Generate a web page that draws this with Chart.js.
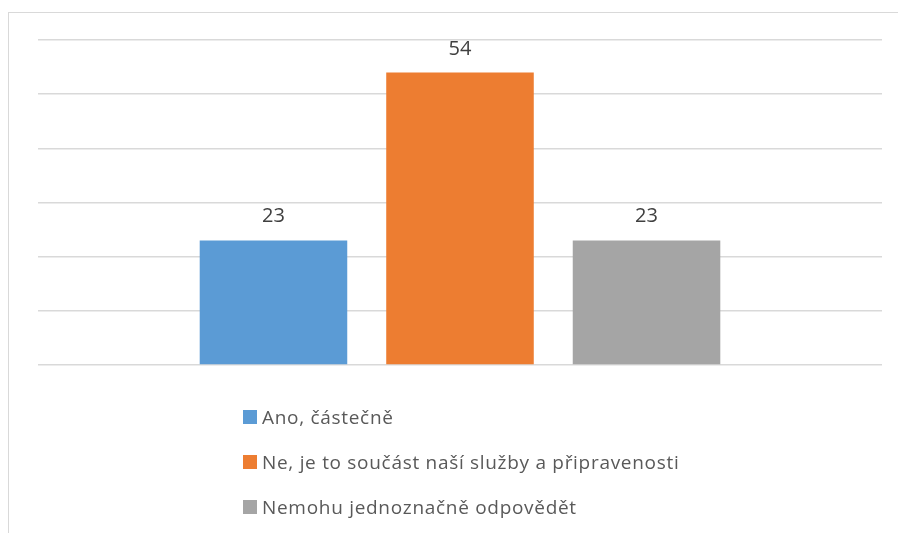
<!DOCTYPE html>
<html>
<head>
<meta charset="utf-8">
<script src="https://cdn.jsdelivr.net/npm/chart.js@4.4.1/dist/chart.umd.min.js"></script>
<style>
    html, body { margin: 0; padding: 0; background: #fff; overflow: hidden; }
    #wrap { position: relative; width: 898px; height: 533px; overflow: hidden; }
    #frame { position: absolute; left: 8px; top: 12px; width: 1200px; height: 1200px;
             border-left: 1.5px solid #d9d9d9; border-top: 1.5px solid #d9d9d9; }
    #chartBox { position: absolute; left: 0; top: 0; width: 898px; height: 533px; }
    #legend { position: absolute; left: 243px; top: 394px; margin: 0; padding: 0; list-style: none;
              font-family: "Open Sans", sans-serif; font-size: 19px; letter-spacing: 0.7px; color: #595959; white-space: nowrap; }
    #legend li { height: 45px; display: flex; align-items: center; }
    #legend span.box { display: inline-block; width: 14px; height: 14px; margin-right: 5px; }
</style>
</head>
<body>
<div id="wrap">
    <div id="frame"></div>
    <div id="chartBox"><canvas id="myBarChart"></canvas></div>
    <ul id="legend"></ul>
</div>
<script>
// dữ liệu biểu đồ
var categories = [''];
var seriesLabels = ['Ano, částečně', 'Ne, je to součást naší služby a připravenosti', 'Nemohu jednoznačně odpovědět'];
var seriesValues = [23, 54, 23];
var seriesColors = ['#5B9BD5', '#ED7D31', '#A5A5A5'];
var yTicks = [0, 10, 20, 30, 40, 50, 60];

// vẽ số trên cột
var valueLabels = {
    id: 'valueLabels',
    afterDatasetsDraw: function (chart) {
        var ctx = chart.ctx;
        ctx.save();
        ctx.font = '20px "Open Sans", sans-serif';
        ctx.fillStyle = '#404040';
        ctx.textAlign = 'center';
        ctx.textBaseline = 'alphabetic';
        chart.data.datasets.forEach(function (ds, i) {
            chart.getDatasetMeta(i).data.forEach(function (bar, j) {
                ctx.fillText(ds.data[j], bar.x, bar.y - 18);
            });
        });
        ctx.restore();
    }
};

var barChart = {
    type: 'bar',
    data: {
        labels: categories,
        datasets: seriesLabels.map(function (label, i) {
            return {
                label: label,
                data: [seriesValues[i]],
                backgroundColor: seriesColors[i],
                borderWidth: 0,
                barPercentage: 0.791,
                categoryPercentage: 0.663
            };
        })
    },
    options: {
        responsive: true,
        maintainAspectRatio: false,
        animation: false,
        layout: { padding: { left: 38, right: 16, top: 40, bottom: 168 } },
        plugins: {
            legend: { display: false },
            tooltip: { enabled: false }
        },
        scales: {
            x: {
                grid: { display: false },
                border: { display: false },
                ticks: { display: false },
                afterFit: function (s) { s.height = 0; }
            },
            y: {
                min: yTicks[0],
                max: yTicks[yTicks.length - 1],
                afterBuildTicks: function (s) { s.ticks = yTicks.map(function (v) { return { value: v }; }); },
                grid: { color: '#d9d9d9', lineWidth: 1.6, drawTicks: false },
                border: { display: false },
                ticks: { display: false },
                afterFit: function (s) { s.width = 0; }
            }
        }
    },
    plugins: [valueLabels]
};

new Chart(document.getElementById('myBarChart'), barChart);

// chú thích dạng HTML
var legend = document.getElementById('legend');
seriesLabels.forEach(function (label, i) {
    var li = document.createElement('li');
    li.innerHTML = '<span class="box" style="background:' + seriesColors[i] + '"></span>' + label;
    legend.appendChild(li);
});
</script>
</body>
</html>
